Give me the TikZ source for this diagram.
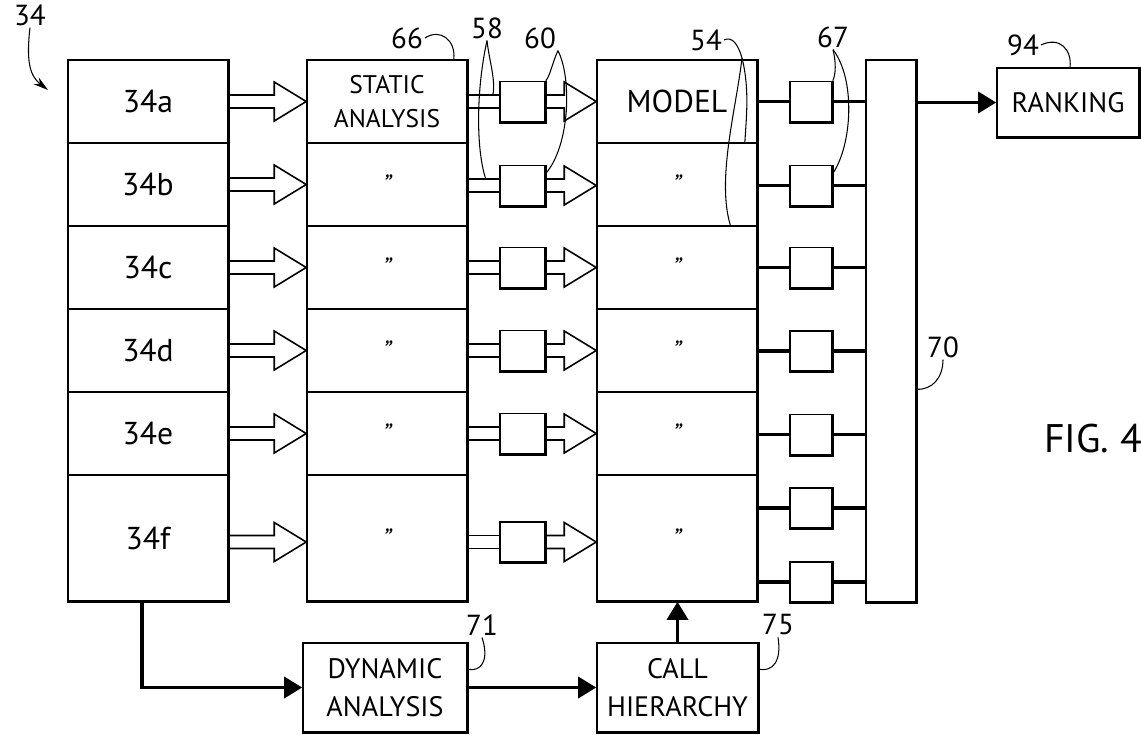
\documentclass[tikz,border=0pt]{standalone}
\usepackage{fontspec}
\setmainfont{PT Sans}
\usetikzlibrary{arrows.meta,calc}

\tikzset{
  cell/.style={draw, line width=0.9pt, minimum width=3.2cm, inner sep=0pt, font=\fontsize{18}{20}\selectfont},
  gate/.style={draw, line width=0.9pt, minimum width=0.9cm, minimum height=0.8cm, inner sep=0pt},
  box/.style={draw, line width=0.9pt, inner sep=0pt, align=center, font=\fontsize{16}{21.5}\selectfont},
  tag/.style={font=\fontsize{16.5}{18}\selectfont, inner sep=1pt},
  lead/.style={line width=0.6pt},
  heavy/.style={line width=1.8pt},
  hollow/.style={line width=0.9pt, line join=miter},
  twin/.style={double, double distance=0.23cm, line width=0.9pt},
  bold line/.style={line width=2pt},
  fat/.style={line width=2pt, -{Triangle[length=0.36cm, width=0.42cm]}},
}

\newcommand{\ditto}{{\fontsize{15}{15}\selectfont\itshape ''}}
% hollow double-line arrow, from #1 to the tip #2 (same level)
\newcommand{\fatarrow}[2]{%
  \draw[hollow] ($(#1)+(0,-6.5)$) -- ($(#2)+(-32,-6.5)$) -- ($(#2)+(-32,-19.5)$)
    -- (#2) -- ($(#2)+(-32,19.5)$) -- ($(#2)+(-32,6.5)$) -- ($(#1)+(0,6.5)$);}
% heavier right and lower edge
\newcommand{\shadowedge}[2]{%
  \draw[heavy] (#1.north east) -- (#2.south east) -- (#2.south west);}

\begin{document}
\begin{tikzpicture}[x=0.02cm, y=-0.02cm]
    \useasboundingbox (0,0) rectangle (1141,734);
    \coordinate (rowf) at (0,542);

    % Eingaben
    \node[cell, minimum height=1.66cm] (r34a) at (148,101.5) {34a};
    \node[cell, minimum height=1.66cm] (r34b) at (148,184.5) {34b};
    \node[cell, minimum height=1.66cm] (r34c) at (148,267.5) {34c};
    \node[cell, minimum height=1.66cm] (r34d) at (148,350.5) {34d};
    \node[cell, minimum height=1.66cm] (r34e) at (148,433.5) {34e};
    \node[cell, minimum height=2.52cm] (r34f) at (148,538) {34f};

    % Statische Analyse
    \node[cell, minimum height=1.66cm, align=center, font=\fontsize{14.5}{19.5}\selectfont] (s1) at (387,101.5) {STATIC\\ANALYSIS};
    \node[cell, minimum height=1.66cm] (s2) at (387,184.5) {\ditto};
    \node[cell, minimum height=1.66cm] (s3) at (387,267.5) {\ditto};
    \node[cell, minimum height=1.66cm] (s4) at (387,350.5) {\ditto};
    \node[cell, minimum height=1.66cm] (s5) at (387,433.5) {\ditto};
    \node[cell, minimum height=2.52cm] (s6) at (387,538) {\ditto};

    % Modelle
    \node[cell, minimum height=1.66cm] (m1) at (677,101.5) {MODEL};
    \node[cell, minimum height=1.66cm] (m2) at (677,184.5) {\ditto};
    \node[cell, minimum height=1.66cm] (m3) at (677,267.5) {\ditto};
    \node[cell, minimum height=1.66cm] (m4) at (677,350.5) {\ditto};
    \node[cell, minimum height=1.66cm] (m5) at (677,433.5) {\ditto};
    \node[cell, minimum height=2.52cm] (m6) at (677,538) {\ditto};

    % Filter 60 und 67
    \node[gate] (g60a) at (522.5,101.5) {};
    \node[gate] (g60b) at (522.5,185.5) {};
    \node[gate] (g60c) at (522.5,267.5) {};
    \node[gate] (g60d) at (522.5,350.5) {};
    \node[gate] (g60e) at (522.5,433.5) {};
    \node[gate] (g60f) at (522.5,542) {};
    \node[gate, minimum width=0.84cm] (g67a) at (811,101.5) {};
    \node[gate, minimum width=0.84cm] (g67b) at (811,185.5) {};
    \node[gate, minimum width=0.84cm] (g67c) at (811,267.5) {};
    \node[gate, minimum width=0.84cm] (g67d) at (811,351) {};
    \node[gate, minimum width=0.84cm] (g67e) at (811,434.5) {};
    \node[gate, minimum width=0.84cm] (g67f) at (811,508) {};
    \node[gate, minimum width=0.84cm] (g67g) at (811,582) {};

    % Sammelschiene, Ranking, untere Kaesten
    \node[draw, line width=0.9pt, minimum width=1cm, minimum height=10.84cm, inner sep=0pt] (bus) at (891,331) {};
    \node[box, minimum width=2.84cm, minimum height=1.38cm] (rank) at (1068,102.5) {RANKING};
    \node[box, minimum width=3.28cm, minimum height=1.78cm] (dyn) at (385,687.5) {DYNAMIC\\ANALYSIS};
    \node[box, minimum width=3.22cm, minimum height=1.78cm] (call) at (677.5,687.5) {CALL\\HIERARCHY};

    % Pfeile 34 -> statische Analyse
    \fatarrow{r34a.east}{s1.west}
    \fatarrow{r34b.east}{s2.west}
    \fatarrow{r34c.east}{s3.west}
    \fatarrow{r34d.east}{s4.west}
    \fatarrow{r34e.east}{s5.west}
    \fatarrow{r34f.east |- rowf}{s6.west |- rowf}

    % Leitungen 58 und Pfeile -> Modell
    \draw[twin] (s1.east) -- (g60a.west);
    \draw[twin] (s2.east |- g60b) -- (g60b.west);
    \draw[twin] (s3.east) -- (g60c.west);
    \draw[twin] (s4.east) -- (g60d.west);
    \draw[twin] (s5.east) -- (g60e.west);
    \draw[twin] (s6.east |- rowf) -- (g60f.west);
    \fatarrow{g60a.east}{m1.west}
    \fatarrow{g60b.east}{m2.west |- g60b}
    \fatarrow{g60c.east}{m3.west}
    \fatarrow{g60d.east}{m4.west}
    \fatarrow{g60e.east}{m5.west}
    \fatarrow{g60f.east}{m6.west |- rowf}

    % Modell -> 67 -> Schiene 70
    \draw[bold line] (m1.east) -- (g67a.west) (g67a.east) -- (bus.west |- g67a);
    \draw[bold line] (m2.east |- g67b) -- (g67b.west) (g67b.east) -- (bus.west |- g67b);
    \draw[bold line] (m3.east) -- (g67c.west) (g67c.east) -- (bus.west |- g67c);
    \draw[bold line] (m4.east |- g67d) -- (g67d.west) (g67d.east) -- (bus.west |- g67d);
    \draw[bold line] (m5.east |- g67e) -- (g67e.west) (g67e.east) -- (bus.west |- g67e);
    \draw[bold line] (m6.east |- g67f) -- (g67f.west) (g67f.east) -- (bus.west |- g67f);
    \draw[bold line] (m6.east |- g67g) -- (g67g.west) (g67g.east) -- (bus.west |- g67g);
    \draw[fat] (bus.east |- rank.west) -- (rank.west);

    % Dynamische Analyse
    \draw[fat] ($(r34f.south)+(-6,0)$) |- (dyn.west);
    \draw[fat] (dyn.east) -- (call.west);
    \draw[fat] (call.north) -- (call.north |- m6.south);

    % schwere Kanten
    \shadowedge{r34a}{r34f}
    \shadowedge{s1}{s6}
    \shadowedge{m1}{m6}
    \shadowedge{bus}{bus}
    \shadowedge{rank}{rank}
    \shadowedge{dyn}{dyn}
    \shadowedge{call}{call}
    \shadowedge{g60a}{g60a} \shadowedge{g60b}{g60b} \shadowedge{g60c}{g60c}
    \shadowedge{g60d}{g60d} \shadowedge{g60e}{g60e} \shadowedge{g60f}{g60f}
    \shadowedge{g67a}{g67a} \shadowedge{g67b}{g67b} \shadowedge{g67c}{g67c} \shadowedge{g67d}{g67d}
    \shadowedge{g67e}{g67e} \shadowedge{g67f}{g67f} \shadowedge{g67g}{g67g}

    % Bezugszeichen
    \node[tag] (lab34) at (30,15) {34};
    \draw[lead, -{Stealth[length=0.3cm, width=0.17cm]}] (lab34.south) .. controls (26,62) and (30,76) .. (48,90);
    \node[tag] (lab66) at (407,38) {66};
    \draw[lead] (lab66.east) .. controls (440,28) and (456,40) .. ($(s1.north east)+(-14,0)$);
    \node[tag] (lab58) at (487,28) {58};
    \draw[lead] (lab58.south) .. controls (489,60) and (496,80) .. ($(s1.east)+(25,-6.5)$);
    \draw[lead] (lab58.south) .. controls (476,90) and (476,150) .. ($(s2.east |- g60b)+(18,-6.5)$);
    \node[tag] (lab60) at (540,38) {60};
    \draw[lead] (lab60.south east) .. controls (552,64) and (550,76) .. (g60a.north east);
    \draw[lead] (lab60.south east) .. controls (572,78) and (570,145) .. ($(g60b.east)+(0,-12)$);
    \node[tag] (lab54) at (706,40) {54};
    \draw[lead] (lab54.east) .. controls (732,36) and (738,44) .. (742,58)
       .. controls (750,90) and (746,120) .. ($(m1.south east)+(-13,0)$);
    \draw[lead] (742,58) .. controls (736,110) and (716,180) .. ($(m2.south east)+(-27,0)$);
    \node[tag] (lab67) at (833,37) {67};
    \draw[lead] (lab67.south) .. controls (836,62) and (836,74) .. (g67a.north east);
    \draw[lead] (lab67.south) .. controls (856,80) and (852,145) .. ($(g67b.east)+(0,-12)$);
    \node[tag] (lab94) at (1023,45) {94};
    \draw[lead] (lab94.east) .. controls (1060,36) and (1072,50) .. ($(rank.north)+(2,0)$);
    \node[tag] (lab70) at (943,347) {70};
    \draw[lead] (lab70.south) .. controls (943,378) and (932,390) .. ($(bus.north east)+(0,330)$);
    \node[tag] (lab71) at (482,625) {71};
    \draw[lead] (lab71.south) .. controls (490,662) and (480,672) .. ($(dyn.north east)+(0,27)$);
    \node[tag] (lab75) at (778,625) {75};
    \draw[lead] (lab75.south) .. controls (782,662) and (772,672) .. ($(call.north east)+(0,27)$);

    \node[font=\fontsize{22.7}{24}\selectfont, inner sep=0pt] (fig) at (1093,439) {FIG. 4};
\end{tikzpicture}
\end{document}
